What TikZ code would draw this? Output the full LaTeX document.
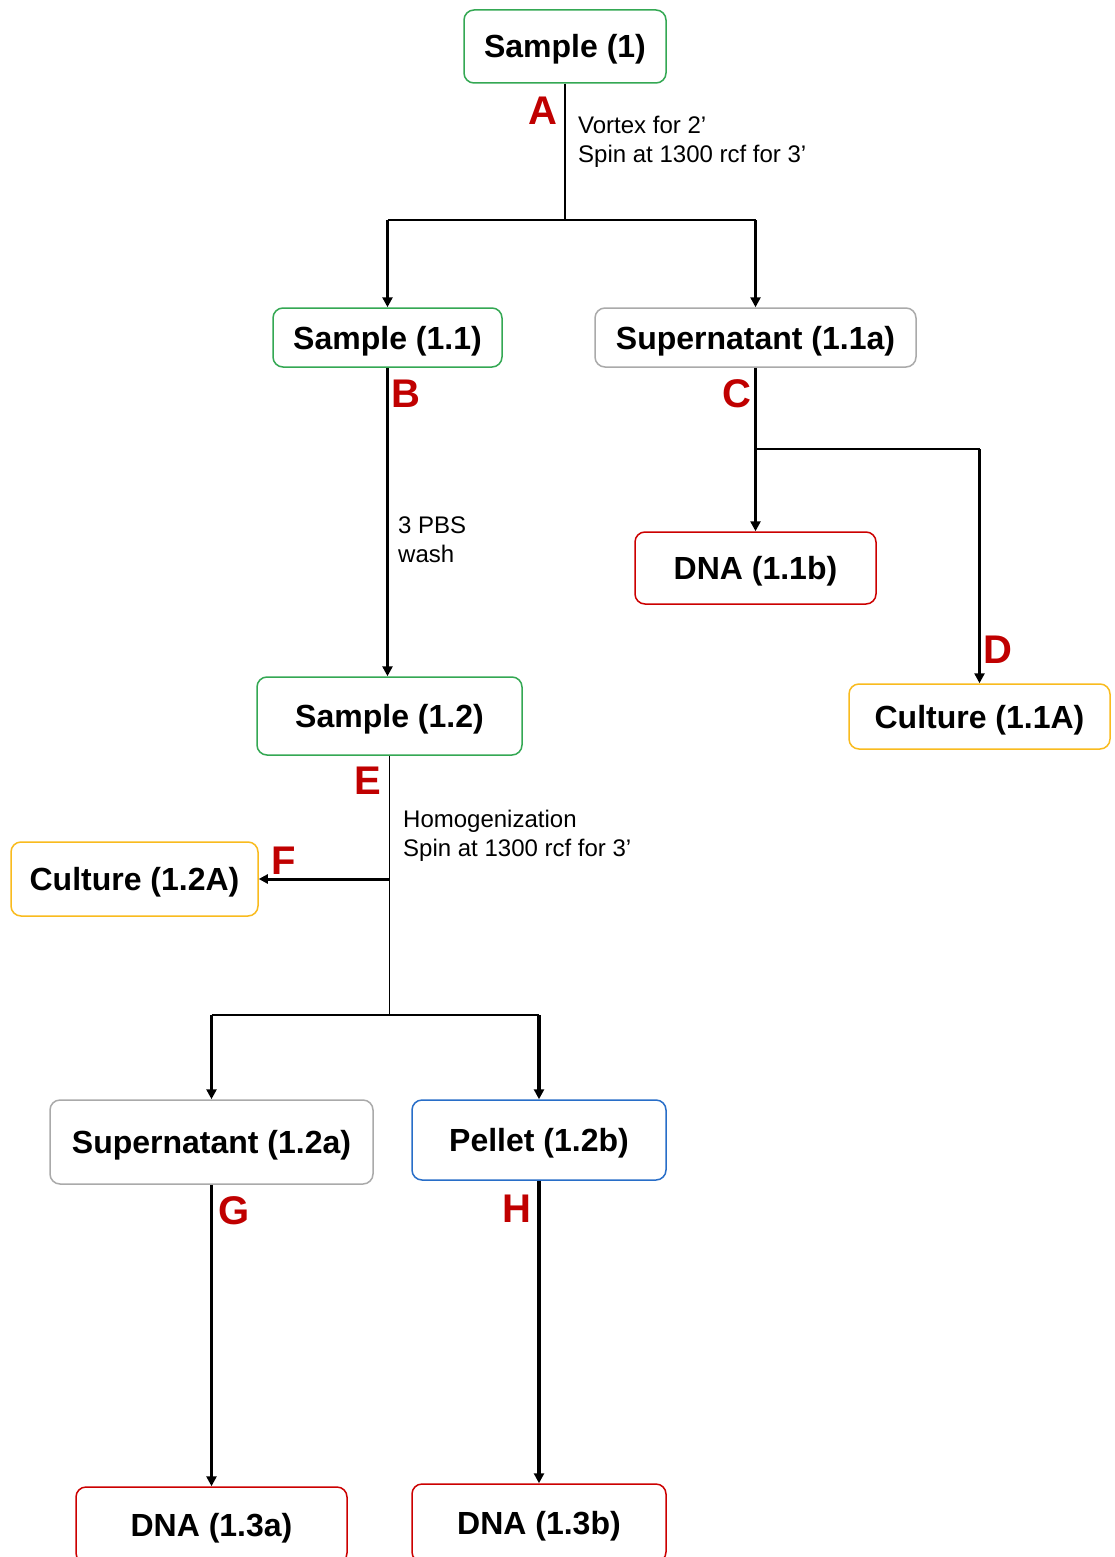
\documentclass[tikz,border=0pt]{standalone}
\usepackage{fontspec}
\setmainfont{Liberation Sans}
\usetikzlibrary{arrows.meta}
\definecolor{bxgreen}{RGB}{52,168,83}
\definecolor{bxgray}{RGB}{170,170,170}
\definecolor{bxred}{RGB}{204,0,0}
\definecolor{bxorange}{RGB}{249,187,30}
\definecolor{bxblue}{RGB}{40,110,200}
\definecolor{lblred}{RGB}{192,0,0}
\begin{document}
\begin{tikzpicture}[x=1pt,y=-1pt,
  box/.style={draw, rounded corners=10pt, line width=1.5pt, fill=white, inner sep=0pt,
    text height=30pt, text depth=7pt,
    font=\fontsize{32}{38}\selectfont\bfseries},
  letter/.style={text=lblred, inner sep=0pt, font=\fontsize{40}{44}\selectfont\bfseries},
  note/.style={inner sep=0pt, anchor=west, align=left, font=\fontsize{24}{29}\selectfont},
  thinline/.style={line width=1.6pt},
  hline/.style={line width=2.2pt},
  arr/.style={line width=3.5pt, -{Triangle[length=10pt,width=10pt]}},
  harr/.style={line width=3pt, -{Triangle[length=9pt,width=9pt]}}
]
\useasboundingbox (0,0) rectangle (1115,1557);
\clip (0,0) rectangle (1115,1557);
\fill[white] (0,0) rectangle (1115,1557);

% nodes
\node[box, draw=bxgreen, minimum width=202pt, minimum height=73pt] (s1) at (565,46.5) {Sample (1)};
\node[box, draw=bxgreen, minimum width=229pt, minimum height=59pt] (s11) at (387.5,337.5) {Sample (1.1)};
\node[box, draw=bxgray, minimum width=321pt, minimum height=59pt] (sup11) at (755.5,337.5) {Supernatant (1.1a)};
\node[box, draw=bxred, minimum width=241pt, minimum height=72pt] (dna11b) at (755.5,568) {DNA (1.1b)};
\node[box, draw=bxorange, minimum width=261pt, minimum height=65pt] (cult11) at (979.5,716.5) {Culture (1.1A)};
\node[box, draw=bxgreen, minimum width=265pt, minimum height=78pt] (s12) at (389.5,716) {Sample (1.2)};
\node[box, draw=bxorange, minimum width=247pt, minimum height=74pt] (cult12) at (134.5,879) {Culture (1.2A)};
\node[box, draw=bxgray, minimum width=323pt, minimum height=84pt] (sup12) at (211.5,1142) {Supernatant (1.2a)};
\node[box, draw=bxblue, minimum width=254pt, minimum height=80pt] (pellet) at (539,1140) {Pellet (1.2b)};
\node[box, draw=bxred, minimum width=271pt, minimum height=76pt] (dna13a) at (211.5,1525) {DNA (1.3a)};
\node[box, draw=bxred, minimum width=254pt, minimum height=78pt] (dna13b) at (539,1523) {DNA (1.3b)};

% step letters
\node[letter] (lA) at (543,111) {A};
\node[letter] (lB) at (406,394) {B};
\node[letter] (lC) at (737,394) {C};
\node[letter] (lD) at (998,650) {D};
\node[letter] (lE) at (368,781) {E};
\node[letter] (lF) at (284,861) {F};
\node[letter] (lG) at (234,1211) {G};
\node[letter] (lH) at (517,1209) {H};

% notes
\node[note] (nA) at (578,142) {Vortex for 2’\\Spin at 1300 rcf for 3’};
\node[note] (nB) at (398,540) {3 PBS\\wash};
\node[note] (nE) at (403,836) {Homogenization\\Spin at 1300 rcf for 3’};

% connectors
\coordinate (jA) at (565,220);
\draw[thinline] (s1.south) -- (jA);
\draw[hline] (s11.north |- jA) -- (sup11.north |- jA);
\draw[arr] (s11.north |- jA) -- (s11.north);
\draw[arr] (sup11.north |- jA) -- (sup11.north);

\draw[arr] (s11.south) -- (s11.south |- s12.north);

\coordinate (jC) at (755.5,449);
\draw[arr] (sup11.south) -- (dna11b.north);
\draw[hline] (jC) -- (cult11.north |- jC);
\draw[arr] (cult11.north |- jC) -- (cult11.north);

\coordinate (jF) at (389.5,879);
\coordinate (jE) at (389.5,1015);
\draw[thinline] (s12.south) -- (jE);
\draw[harr] (jF) -- (cult12.east);
\draw[hline] (sup12.north |- jE) -- (pellet.north |- jE);
\draw[arr] (sup12.north |- jE) -- (sup12.north);
\draw[arr] (pellet.north |- jE) -- (pellet.north);

\draw[arr] (sup12.south) -- (dna13a.north);
\draw[arr] (pellet.south) -- (dna13b.north);
\end{tikzpicture}
\end{document}
